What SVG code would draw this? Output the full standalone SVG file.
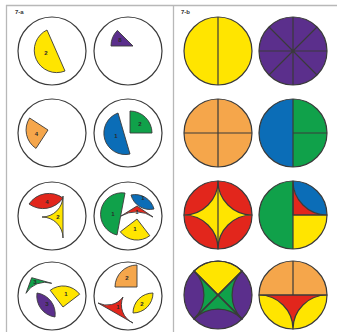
<svg xmlns="http://www.w3.org/2000/svg" width="337" height="335" viewBox="0 0 337 335">
<style>
.fr{stroke:#b8b8b8;stroke-width:1.3;fill:none}
.c{fill:#fff;stroke:#3a3a3a;stroke-width:1.2}
.p{stroke:#3a3a3a;stroke-width:0.9;stroke-linejoin:round}
.s{stroke:#3a3a3a;stroke-width:1.2;stroke-linejoin:round}
.l{stroke:#3a3a3a;stroke-width:1.2;fill:none}
.y{fill:#FFE500}.pu{fill:#5B2F8C}.o{fill:#F5A64B}.b{fill:#0B6DB7}.g{fill:#10A14A}.r{fill:#E2261C}
.t{font-family:'Liberation Sans',Arial,sans-serif;font-size:6px;font-weight:bold;fill:#2a2a2a;text-anchor:middle}
.h{font-family:'Liberation Sans',Arial,sans-serif;font-size:6px;font-weight:bold;fill:#333}
</style>
<rect width="337" height="335" fill="#fff"/>
<g id="frame">
<line class="fr" x1="6" y1="5.5" x2="337" y2="5.5"/>
<line class="fr" x1="6.5" y1="5" x2="6.5" y2="332"/>
<line class="fr" x1="173.5" y1="5" x2="173.5" y2="332"/>
<text class="h" x="15" y="14">7-a</text>
<text class="h" x="181" y="14">7-b</text>
</g>
<g id="a1">
<circle class="c" cx="52" cy="51" r="34"/>
<path class="p y" d="M47,30 A22.4,22.4 0 0 0 65,71 Z"/>
<text class="t" x="46" y="55">2</text>
</g>
<g id="a2">
<circle class="c" cx="128" cy="51" r="34"/>
<path class="p pu" d="M133,46 L111,46 A22,22 0 0 1 117.4,30.4 Z"/>
<text class="t" x="120" y="42">8</text>
</g>
<g id="a3">
<circle class="c" cx="52" cy="133" r="34"/>
<path class="p o" d="M48,130 L29.6,118 A22,22 0 0 0 36,148.4 Z"/>
<text class="t" x="36.5" y="136">4</text>
</g>
<g id="a4">
<circle class="c" cx="128" cy="133" r="34"/>
<path class="p b" d="M118,113 A21.4,21.4 0 0 0 130,154 Z"/>
<path class="p g" d="M130,133 L130,111 A22,22 0 0 1 152,133 Z"/>
<text class="t" x="116" y="138">1</text>
<text class="t" x="140" y="126">2</text>
</g>
<g id="a5">
<circle class="c" cx="52" cy="216" r="34"/>
<path class="p r" d="M29,204 A24,24 0 0 1 63,198 A24,24 0 0 1 29,204 Z"/>
<path class="p y" d="M63,196 L63,238 A21,21 0 0 0 42,217 A21,21 0 0 0 63,196 Z"/>
<text class="t" x="47" y="204">4</text>
<text class="t" x="58" y="219">2</text>
</g>
<g id="a6">
<circle class="c" cx="128" cy="216" r="34"/>
<path class="p g" d="M125,193 A21.4,21.4 0 0 0 117,235 Z"/>
<path class="p b" d="M131,195 A19.5,19.5 0 0 1 154,209 A19.5,19.5 0 0 1 131,195 Z"/>
<path class="p r" d="M137,206 L153,217 A30,30 0 0 0 121,216 Z"/>
<path class="p y" d="M137,219 L120.3,231.8 A21,21 0 0 0 149.8,235.7 Z"/>
<text class="t" x="113" y="216">1</text>
<text class="t" x="143" y="200">1</text>
<text class="t" x="137" y="214">1</text>
<text class="t" x="135" y="231">1</text>
</g>
<g id="a7">
<circle class="c" cx="52" cy="296" r="34"/>
<path class="p g" d="M31.7,277.7 L51.7,283.3 A22,22 0 0 0 26,293.3 Z"/>
<path class="p pu" d="M37,293 A21.2,21.2 0 0 1 55,317 A21.2,21.2 0 0 1 37,293 Z"/>
<path class="p y" d="M63,307 L50.2,290.3 A21,21 0 0 1 79.7,294.2 Z"/>
<text class="t" x="35" y="284">3</text>
<text class="t" x="47" y="306">3</text>
<text class="t" x="66" y="296">1</text>
</g>
<g id="a8">
<circle class="c" cx="128" cy="296" r="34"/>
<path class="p o" d="M137,287 L115,287 A22,22 0 0 1 137,265 Z"/>
<path class="p r" d="M98,303 L133,323 A20,20 0 0 1 123,297 A20,20 0 0 1 98,303 Z"/>
<path class="p y" d="M133,313 A20,20 0 0 1 153,293 A20,20 0 0 1 133,313 Z"/>
<text class="t" x="127" y="280">2</text>
<text class="t" x="118" y="309">1</text>
<text class="t" x="142" y="306">2</text>
</g>
<g id="b1">
<circle class="s y" cx="218" cy="51" r="34"/>
<line class="l" x1="218" y1="17" x2="218" y2="85"/>
</g>
<g id="b2">
<circle class="s pu" cx="293" cy="51" r="34"/>
<path class="l" d="M293,17 V85 M259,51 H327 M269,27 L317,75 M317,27 L269,75"/>
</g>
<g id="b3">
<circle class="s o" cx="218" cy="133" r="34"/>
<path class="l" d="M218,99 V167 M184,133 H252"/>
</g>
<g id="b4">
<path class="b" d="M293,99 A34,34 0 0 0 293,167 Z"/>
<path class="g" d="M293,99 A34,34 0 0 1 293,167 Z"/>
<circle class="l" cx="293" cy="133" r="34"/>
<path class="l" d="M293,99 V167 M293,133 H327"/>
</g>
<g id="b5">
<circle class="s r" cx="218" cy="215" r="34"/>
<path class="s y" d="M218,181 A34,34 0 0 0 252,215 A34,34 0 0 0 218,249 A34,34 0 0 0 184,215 A34,34 0 0 0 218,181 Z"/>
<line class="l" x1="218" y1="181" x2="218" y2="249"/>
</g>
<g id="b6">
<path class="g" d="M293,181 A34,34 0 0 0 293,249 Z"/>
<path class="y" d="M293,215 L327,215 A34,34 0 0 1 293,249 Z"/>
<path class="b" d="M293,181 A34,34 0 0 1 327,215 A34,34 0 0 1 293,181 Z"/>
<path class="s r" d="M293,215 L293,181 A34,34 0 0 0 327,215 Z"/>
<circle class="l" cx="293" cy="215" r="34"/>
<path class="l" d="M293,181 V249 M293,215 H327"/>
</g>
<g id="b7">
<circle class="pu" cx="218" cy="295" r="34"/>
<path class="s y" d="M218,295 L194,271 A34,34 0 0 1 242,271 Z"/>
<path class="s g" d="M218,295 L194,271 A34,34 0 0 1 194,319 Z"/>
<path class="s g" d="M218,295 L242,271 A34,34 0 0 0 242,319 Z"/>
<path class="s g" d="M218,295 L194,319 A34,34 0 0 1 242,319 Z"/>
<circle class="l" cx="218" cy="295" r="34"/>
<path class="l" d="M194,271 L242,319 M242,271 L194,319"/>
</g>
<g id="b8">
<path class="o" d="M259,295 A34,34 0 0 1 327,295 Z"/>
<path class="y" d="M259,295 A34,34 0 0 0 327,295 Z"/>
<path class="s r" d="M259,295 L327,295 A34,34 0 0 0 293,329 A34,34 0 0 0 259,295 Z"/>
<circle class="l" cx="293" cy="295" r="34"/>
<path class="l" d="M293,261 V295 M259,295 H327"/>
</g>
</svg>
